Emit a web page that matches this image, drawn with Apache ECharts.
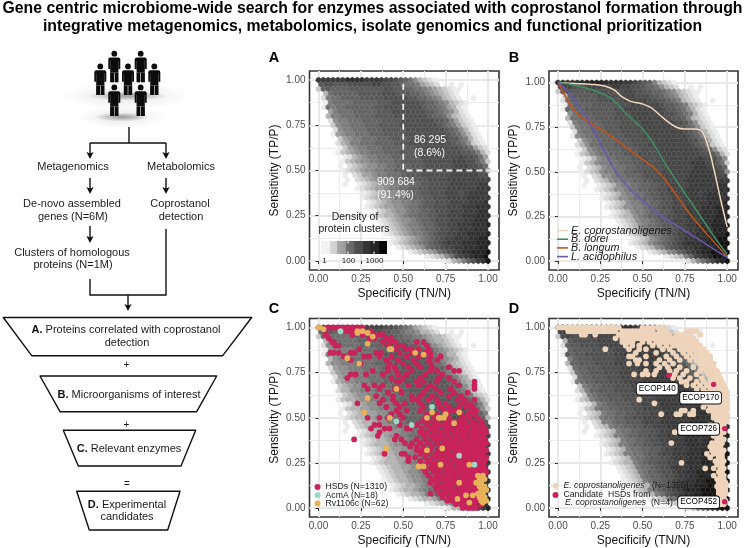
<!DOCTYPE html>
<html><head><meta charset="utf-8">
<style>html,body{margin:0;padding:0;background:#fff}#c{width:745px;height:548px}</style>
<script src="https://cdn.jsdelivr.net/npm/echarts@6/dist/echarts.min.js"></script>
</head><body><div id="c"></div>
<script>
/* density class of each hexagon (a = few clusters ... p = many), one string per row from Sensitivity 1.000 down to 0.000 */
const hexDensityRows = [
"mmmmm mnnnn mmmml lkjih fdcba",
"jkkjj jkkkk kllkk jjihh gedcb ..a.a",
"cijii iijjj jjjjk kjjii hhgfe dcbaa",
".dhii iiijj jjjkk kjjji ihgfe dcba",
".bghh iiiij jjjjk kkkkj jiihg fdcba ..a",
".aghh hhiii iijjj kkkkk kjiih gfdcb a",
".ahgh hiiii iijjk kkkkk kkjii hgedb a",
"..egh hhiii iijjj kkkkk kkjji hgfdb a",
"..dgg hhhii iijjj jkkkk kkkji ihfdc ba",
"..bfg ghhhi iiijj jjkkk kkkkj jigec ba",
"...cf gghhh iiijj jjkkk kkkkk jihge cba",
"...bf gghhh iiijj jjjkk kkkkk kjihf dba",
"...ae fgghh hiiij jjjkk kkkkk kkjih fdba",
"....c efggh hhiii jjjjk kkkkk kkjjh gdba",
"....b deggh hhiii ijjjk kkkkk kkkji hfcba",
"....a cefgg hhhii iijjj kkkkk kkkkj ihecb",
"....a cdefg ghhhi iijjj jkkkk kkkkk jjigd b",
"..... abdef gghhh iijjj jkkkk kkkkl kkjhe",
"..... acdef fgghh hiijj jjkkk kkkll lkkig c",
"....a .bcde ffggh hiiij jjkkk kkkll lkkjh",
"..... abcde ffggh hiijj jjkkk kkkll lllkj e",
"..... a.bce efggh hhijj jkkkk kklll lllkk",
"..... .a.bc deffg ghhii jjjkk kklll lllll l",
"..... a..ab cdeff gghhi ijjkk kklll lllmm",
"..... ...ab cdeef gghhi ijjkk kklll lllmm m",
"..... ....a bcdef fgghi ijjkk klllk lmmmm",
"..... ....a bcdee fgghh iijjk kklll lmmmm m",
"..... ..... abcde ffggh hijjk kklll lmmmn",
"..... ..... abcde effgh hijjk kklll mmmnn n",
"..... ..... .abcd effgh hiijk kklll mmmnn",
"..... ..... .abcd defgh hiijj kklll mmmnn n",
"..... ..... ..abc deffg hiijk kklll mmnnn",
"..... ..... ...ab cdefg ghiij kkllm mmnnn o",
"..... ..... ...ab cdefg ghiij kkllm mmnnn",
"..... ..... ....a bcdef gghij kkllm mnnnn o",
"..... ..... ..... abcde fghij kllmm mnnoo",
"..... ..... ..... abcde fghij klmmm nnnoo o",
"..... ..... ..... .abcd efhij kllmm nnnoo",
"..... ..... ..... ....a bcdef hiklm nnooo p",
"..... ..... ..... ..... ..abc dfhkl mnoop",
"..... ..... ..... ..... ..... .abde gikmn p"
];

/* Panel B curves: [specificity, sensitivity] */
const curveCoprostanoligenes = [[0,1],[.1,.995],[.2,.99],[.28,.98],[.33,.96],[.38,.92],[.43,.895],[.5,.88],[.55,.86],[.6,.82],[.65,.78],[.7,.75],[.75,.74],[.8,.74],[.84,.735],[.87,.69],[.9,.6],[.93,.48],[.96,.35],[.98,.27],[1,.19]];
const curveDorei = [[0,1],[.1,.985],[.2,.96],[.28,.93],[.33,.9],[.4,.83],[.5,.74],[.55,.68],[.6,.6],[.65,.52],[.7,.45],[.75,.38],[.8,.31],[.85,.24],[.9,.17],[.95,.1],[1,.04]];
const curveLongum = [[0,1],[.03,.95],[.07,.88],[.12,.82],[.2,.77],[.3,.71],[.4,.64],[.5,.57],[.57,.52],[.63,.46],[.7,.37],[.75,.3],[.8,.24],[.9,.13],[1,.025]];
const curveAcidophilus = [[0,1],[.05,.96],[.1,.9],[.15,.83],[.2,.75],[.25,.66],[.3,.57],[.35,.49],[.4,.43],[.45,.38],[.5,.34],[.6,.26],[.7,.2],[.8,.14],[.9,.08],[1,.02]];

/* Panel A quadrant boundary */
const quadrantLine = [[.5,.98],[.5,.5],[1.065,.5]];

/* Points as rows: first number = sensitivity x100, the rest = specificity x100 */
const hsdRows = [
[100,5,6,7,8,9,10,11,12,13,15,16,17,18,19,20,21,22,24,25,26],
[98,13,16,18,19,21,23,25,27,31],[96,4,5,20,26,33,36,38],[94,6,30,33,40,43],[92,8,9,38,42,45,58,62],
[90,10,12,41,47,50,64],[88,24,45,52,55,59,65],[86,7,9,12,19,21,34,37,48,55,63,66],
[84,15,27,30,36,43,52,59,66,72],[82,19,40,47,56,65,70],[80,25,42,50,58,66],[78,41,45,53,60,67,77],
[76,32,41,46,55,66,70,80,83],[74,19,22,28,38,47,52,63,73],[72,17,43,50,60,71,77],[70,46,48,58,62,70,80,92],
[68,27,33,38,53,59,66,83,92],[66,29,36,45,47,64,69,78,92],[64,41,49,62,72,80,88],[62,34,44,55,60,67,77,84],
[60,38,44,55,58,65,70,82,86,92],[58,23,36,46,51,60,71,75,85,89],[56,40,48,62,72,77,83,87,91],
[54,46,52,60,74,78,81,90,93],[52,43,48,64,70,76,84,88,92],[50,29,36,41,50,63,68,73,77,85,89,94],
[48,47,61,65,69,75,79,83,86,91,96],[46,33,36,48,58,64,68,71,74,77,81,84,87,90,93,97],
[44,31,39,42,52,54,61,66,70,75,78,82,85,88,92,95,98],[42,36,60,64,68,72,76,80,83,86,90,93,96,99],
[40,35,46,62,66,70,73,77,81,84,87,91,94,97],[38,21,45,49,58,63,68,71,75,79,82,86,89,92,95,98],
[36,51,55,60,65,70,74,77,80,84,87,90,93,96,99],[34,54,58,62,67,72,76,79,82,85,88,91,94,97],
[32,58,61,66,71,74,77,81,84,87,90,93,96,99],[30,39,49,51,60,64,69,72,76,79,82,85,88,91,94,97],
[28,53,57,63,67,71,74,78,81,84,87,90,93,96,99],[26,53,60,65,69,73,76,80,83,86,89,92,95,98],
[24,63,67,70,74,78,82,85,88,91,94,97],[22,62,66,69,72,76,79,83,86,89,92,95,98],
[20,63,68,71,75,78,81,84,87,90,93,96,99],[18,65,70,73,76,79,83,86,89,92,95],
[16,67,69,72,75,78,81,85,88,91,94,97],[14,66,70,74,77,80,83,86,89,92],[12,69,72,75,78,82,85,88,91,94],
[10,70,74,77,80,84,87,90,93],[8,66,72,75,79,82,85,88,92,95],[6,73,77,80,83,86,90,93,96],
[4,76,79,82,84,87,91,94],[2,81,84,86,89,92,96],[0,85,88,90,93]
];
const acmaRows = [[98,13],[56,67],[48,46],[46,55],[29,83],[24,92],[4,98]];
const rv1106cRows = [
[100,0,1],[99,3],[98,23,26],[97,23,29],[95,32],[91,29],[88,42,43],[86,57],[85,62],[83,17],[80,24],[66,46],[61,29],
[53,27,67,83],[52,75],[50,42,64,71,72,74],[47,80],[33,40,73],[32,64],[24,72,89],[23,59,62],
[18,94,97],[16,95,98],[14,83,93,96],[12,95,98],[10,96,99],[8,94,97],[7,87,91],[6,95,98],[5,82],[4,96,99],[3,89,97]
];
const ecopRows = [
[100,0,2,4,6,8,10,12,14,16,18,20,22,24,26,28,30,32,34,36,50,53,56,59,62],
[98,6,8,10,12,14,16,18,20,22,24,26,28,30,32,34,38,40,42,44,46,48,50,52,54,56,60,62,64,76,78,80,82],
[96,14,16,22,36,38,40,42,44,46,48,50,52,54,56,58,60,62,64,66,70,72,74,78,84],
[94,34,38,40,42,44,46,48,50,52,54,56,58,60,62,64,66,68,70,72,74,76,78,80],
[92,38,40,42,44,50,54,58,60,62,64,66,68,70,72,74,76,78,80,82],
[90,40,44,48,56,60,64,68,70,72,74,76,78,80,82,84],[88,28,42,48,52,62,66,72,74,76,78,80,82,84,86],
[86,46,58,68,74,78,82,84,86,88],[84,42,44,52,64,70,76,80,84,86,88,90],[82,46,48,60,66,72,78,82,86,88,90],
[80,42,47,52,58,63,68,84,86,88,90,92],[78,60,65,72,80,86,88,90,92],[76,52,58,66,70,76,84,88,90,92,94],
[74,45,50,53,57,69,74,82,89,92,94,95],[72,68,72,78,85,91,93,95,96],[70,73,76,82,86,90,92,94,96,97],
[68,76,80,84,88,90,92,94,96,97,98],[66,82,86,90,92,94,96,97,98,99],[64,86,88,90,92,94,96,97,98,99,100],
[62,90,92,94,96,97,98,99,100],[60,48,91,92,94,96,98,99,100],[58,57,88,90,92,94,96,98,100],[56,86,90,92,94,96,98,100],
[54,73,75,80,89,91,93,95,97,99],[52,61,70,72,78,80,92,94,96,98,100],[50,92,94,96,98,100],[48,94,96,98,100],
[46,90,94,96,98],[44,89,92,95,97],[42,69,87,91,93,95,98],[40,92,94,96],[38,94,96,98],[36,67,91,93,95,97],
[34,90,92,94,96],[32,91,93,96,98],[30,88,92,94,97],[28,90,95,97],[26,93,96,98],[25,73],[24,94,97],[22,87,92,96,98],
[20,95,97],[18,92,96,98],[16,94,96,98],[14,95,97,99],[12,94,97,99],[10,95,97,99],[8,95,97,99],[6,96,98],[4,95,97,99],[2,96,98]
];
const candidateNames = ["ECOP140","ECOP170","ECOP726","ECOP452"];
const candidateSpecificity = [.655,.92,.985,.985];
const candidateSensitivity = [.735,.685,.44,.035];
const axisTickValues = [0,.25,.5,.75,1];
const axisMinorValues = [.125,.375,.625,.875];

const FONT = '"Liberation Sans",Arial,sans-serif';
const rowsToPoints = rows => rows.flatMap(r => r.slice(1).map(x => [x/100, r[0]/100]));
const greys = ['#ececec','#dcdcdc','#c8c8c8','#b4b4b4','#a0a0a0','#8e8e8e','#7e7e7e','#707070','#646464','#5a5a5a','#505050','#464646','#3c3c3c','#323232','#262626','#141414'];
const hexCells = [];
hexDensityRows.forEach((s, j) => {
  const y = 1 - j/40;
  s.replace(/ /g,'').split('').forEach((ch, i) => {
    if (ch === '.') return;
    hexCells.push([(i + (j % 2 ? .5 : 0))/35, y, ch.charCodeAt(0)-97]);
  });
});
const HW = 1/70, HS = 1/120, HH = 1/60;
const panelShade = [0,1,-1,2];
const hexItem = shade => (params, api) => {
  const x = api.value(0), y = api.value(1);
  const lv = api.value(2), c = greys[lv < 4 ? lv : Math.max(0,Math.min(15,lv+shade))];
  const pts = [[x,y+HH],[x+HW,y+HS],[x+HW,y-HS],[x,y-HH],[x-HW,y-HS],[x-HW,y+HS]].map(p => api.coord(p));
  return {type:'polygon', shape:{points:pts}, style:{fill:c, stroke:c, lineWidth:.3}};
};

const panels = [
  {l:309.5,t:71,w:189.5,h:199,xr:[-.053,1.065],yr:[-.05,1.05]},
  {l:549,t:71,w:189,h:199,xr:[-.053,1.064],yr:[-.05,1.065]},
  {l:309.5,t:318.5,w:189.5,h:199,xr:[-.053,1.065],yr:[-.05,1.05]},
  {l:549,t:318.5,w:189,h:199,xr:[-.053,1.064],yr:[-.05,1.05]}
];
const grids = panels.map(p => ({left:p.l,top:p.t,width:p.w,height:p.h,show:true,backgroundColor:'#fff',borderColor:'#333',borderWidth:1.6,containLabel:false}));
const xAxes = [], yAxes = [];
panels.forEach((p, i) => {
  const mainBits = {
    type:'value', gridIndex:i, nameLocation:'middle',
    axisLine:{show:false},
    axisTick:{show:true,length:3,lineStyle:{color:'#333',width:1},customValues:axisTickValues},
    axisLabel:{customValues:axisTickValues,formatter:v=>v.toFixed(2),color:'#4d4d4d',fontSize:10,fontFamily:FONT,margin:4},
    splitLine:{show:true,lineStyle:{color:'#e8e8e8',width:2}},
    nameTextStyle:{color:'#111',fontSize:12,fontFamily:FONT}
  };
  const minorBits = {
    type:'value', gridIndex:i,
    axisLine:{show:false},
    axisTick:{show:false,customValues:axisMinorValues},
    axisLabel:{show:false,customValues:axisMinorValues},
    splitLine:{show:true,lineStyle:{color:'#ececec',width:1}}
  };
  xAxes.push(Object.assign({},mainBits,{min:p.xr[0],max:p.xr[1],name:'Specificify (TN/N)',nameGap:18}));
  yAxes.push(Object.assign({},mainBits,{min:p.yr[0],max:p.yr[1],name:'Sensitivity (TP/P)',nameGap:29}));
  xAxes.push(Object.assign({},minorBits,{min:p.xr[0],max:p.xr[1]}));
  yAxes.push(Object.assign({},minorBits,{min:p.yr[0],max:p.yr[1]}));
});
const series = [];
panels.forEach((p,i) => series.push({
  type:'custom',name:'Hex '+'ABCD'[i],xAxisIndex:2*i,yAxisIndex:2*i,renderItem:hexItem(panelShade[i]),
  data:hexCells,encode:{x:0,y:1},silent:true,z:2,clip:false
}));
series.push({type:'line',name:'Quadrants',xAxisIndex:0,yAxisIndex:0,data:quadrantLine,symbol:'none',z:5,silent:true,
  lineStyle:{color:'#f0f0f0',width:1.8,type:[6,4]}});
const line = (name,data,color) => ({type:'line',name,xAxisIndex:2,yAxisIndex:2,data,symbol:'none',smooth:.4,z:5,lineStyle:{color,width:1.5},itemStyle:{color}});
series.push(line('E. coprostanoligenes',curveCoprostanoligenes,'#f0d8bd'));
series.push(line('B. dorei',curveDorei,'#3f8f63'));
series.push(line('B. longum',curveLongum,'#c2541b'));
series.push(line('L. acidophilus',curveAcidophilus,'#6a57b0'));
const dots = (name,data,color,ax,z) => ({type:'scatter',name,xAxisIndex:ax,yAxisIndex:ax,data,symbolSize:5.7,z,itemStyle:{color,opacity:1}});
series.push(dots('HSDs (N=1310)',rowsToPoints(hsdRows),'#c8235b',4,5));
series.push(dots('AcmA (N=18)',rowsToPoints(acmaRows),'#9ad9c5',4,6));
series.push(dots('Rv1106c (N=62)',rowsToPoints(rv1106cRows),'#e8b25a',4,6));
series.push(dots('ecop',rowsToPoints(ecopRows),'#eed4bb',6,5));
const labelOffsets = [[-11.5,13.5],[-13,13.5],[-26,0.5],[-26,0.5]];
series.push({type:'scatter',name:'cand',xAxisIndex:6,yAxisIndex:6,symbolSize:5.3,z:7,itemStyle:{color:'#c8235b',opacity:1},
  data:candidateNames.map((n,i)=>({name:n,value:[candidateSpecificity[i],candidateSensitivity[i]],
    label:{show:true,formatter:n,position:'inside',offset:labelOffsets[i],color:'#000',fontSize:8.2,fontFamily:FONT,opacity:1,
      backgroundColor:'#ffffff',borderColor:'#111',borderWidth:.9,borderRadius:2.5,padding:[2,2,1.5,2]}}))});

/* ----- flowchart & annotations ----- */
const g = [];
const txt = (x,y,text,size,extra) => g.push(Object.assign({type:'text',z:20,silent:true,style:Object.assign({x,y,text,fill:'#1a1a1a',fontSize:size,fontFamily:FONT,align:'center',verticalAlign:'middle',rich:{b:{fontWeight:'bold',fontSize:size,fontFamily:FONT,fill:'#111'}}},extra||{})}));
const ln = pts => g.push({type:'polyline',z:10,silent:true,shape:{points:pts},style:{stroke:'#111',lineWidth:1.4,fill:null}});
const arrow = (x,y1,y2) => {ln([[x,y1],[x,y2-3]]);g.push({type:'polygon',z:10,silent:true,shape:{points:[[x-3.6,y2-7],[x,y2-5.5],[x+3.6,y2-7],[x,y2]]},style:{fill:'#111'}});};
const trap = pts => g.push({type:'polygon',z:10,silent:true,shape:{points:pts},style:{fill:'#fff',stroke:'#111',lineWidth:1.4,lineJoin:'round'}});
function person(cx,top){
  const k={fill:'#0c0c0c'};
  g.push({type:'circle',z:12,silent:true,shape:{cx,cy:top+3,r:2.9},style:k});
  g.push({type:'rect',z:12,silent:true,shape:{x:cx-6,y:top+6.8,width:12,height:11.5,r:[2,2,0,0]},style:k});
  g.push({type:'rect',z:12,silent:true,shape:{x:cx-4.1,y:top+12,width:8.2,height:10},style:k});
  g.push({type:'rect',z:12,silent:true,shape:{x:cx-4.2,y:top+22,width:3.9,height:9.6},style:k});
  g.push({type:'rect',z:12,silent:true,shape:{x:cx+.3,y:top+22,width:3.9,height:9.6},style:k});
  g.push({type:'rect',z:12,silent:true,shape:{x:cx-4.4,y:top+10,width:.5,height:9},style:{fill:'#666'}});
  g.push({type:'rect',z:12,silent:true,shape:{x:cx+3.9,y:top+10,width:.5,height:9},style:{fill:'#666'}});
}
const shadow = (cx,cy,rx,ry,a) => { for (let k=1;k<=8;k++) g.push({type:'ellipse',z:9,silent:true,shape:{cx,cy,rx:rx*k/8,ry:ry*k/8},style:{fill:'rgba(0,0,0,'+a+')'}}); };
shadow(127,96,62,13,.012); shadow(127,96,38,4,.04); shadow(122,117,42,11,.012); shadow(122,117,26,4,.045);
person(114.3,50.7);person(140.7,50.7);person(100.3,63.4);person(128,63.4);person(154.3,63.4);person(114.3,84.4);person(140.7,84.4);

ln([[129,127],[129,143]]);ln([[90,143],[166,143]]);
arrow(90,143,159);arrow(166,143,159);
txt(73,167,'Metagenomics',11);txt(181,167,'Metabolomics',11);
arrow(90,178,194);arrow(166,178,194);
txt(72,204,'De-novo assembled',11);txt(73,216.5,'genes (N=6M)',11);
txt(180,204,'Coprostanol',11);txt(181,216.5,'detection',11);
arrow(90,226,243);ln([[166,229],[166,295],[90,295],[90,279]]);
txt(72,253,'Clusters of homologous',11);txt(73,265,'proteins (N=1M)',11);
arrow(128,295,311);
trap([[3.3,317.5],[251.7,317.5],[222.7,355.7],[31.7,355.7]]);
txt(126,330,'{b|A.} Proteins correlated with coprostanol',11);txt(127,343,'detection',11);
txt(126.5,365,'+',10);
trap([[40,376],[216.7,376],[196.7,411.7],[60,411.7]]);
txt(129,395,'{b|B.} Microorganisms of interest',11);
txt(126.5,425,'+',10);
trap([[63.3,430.3],[195.7,430.3],[181,466],[78.3,466]]);
txt(129,449,'{b|C.} Relevant enzymes',11);
txt(127,484,'=',10);
trap([[76.7,491.3],[180,491.3],[167.7,530],[89.3,530]]);
txt(127,504.5,'{b|D.} Experimental',11);txt(127,517,'candidates',11);

[['A',274,58],['B',514,58],['C',274,309],['D',514,309]].forEach(a=>txt(a[1],a[2],a[0],14.5,{fontWeight:'bold',fill:'#000'}));

/* Panel A annotations */
const white={fill:'#f4f4f4',align:'left'};
txt(414,140,'86 295',10.5,white);txt(414,152.7,'(8.6%)',10.5,white);
txt(377,182,'909 684',10.5,white);txt(377,195,'(91.4%)',10.5,white);
txt(355,217,'Density of',10.5);txt(354,229,'protein clusters',10.5);
g.push({type:'rect',z:20,silent:true,shape:{x:321,y:241,width:66,height:13},style:{fill:{type:'linear',x:0,y:0,x2:1,y2:0,colorStops:
  [[0,'#f2f2f2'],[.13,'#f2f2f2'],[.13,'#d8d8d8'],[.25,'#d0d0d0'],[.25,'#a9a9a9'],[.38,'#999'],[.38,'#6f6f6f'],[.5,'#666'],[.5,'#525252'],[.63,'#4a4a4a'],[.63,'#363636'],[.75,'#333'],[.75,'#262626'],[.88,'#222'],[.88,'#0c0c0c'],[1,'#050505']].map(s=>({offset:s[0],color:s[1]}))}}});
[348,374].forEach(x=>{g.push({type:'rect',z:21,silent:true,shape:{x:x-.5,y:241,width:1,height:2.6},style:{fill:'#fff'}});g.push({type:'rect',z:21,silent:true,shape:{x:x-.5,y:251.4,width:1,height:2.6},style:{fill:'#fff'}});});
txt(324.5,261,'1',8);txt(348.5,261,'100',8);txt(374.5,261,'1000',8);

/* Panel D legend second line */
g.push({type:'text',z:20,silent:true,style:{x:565,y:503,text:'{i|E. coprostanoligenes}  (N=4)',fill:'#1a1a1a',fontSize:8.7,fontFamily:FONT,verticalAlign:'middle',rich:{i:{fontStyle:'italic',fontSize:8.7,fontFamily:FONT,fill:'#1a1a1a'}}}});

const option = {
  animation:false,
  backgroundColor:'#fff',
  title:{text:'Gene centric microbiome-wide search for enzymes associated with coprostanol formation through\nintegrative metagenomics, metabolomics, isolate genomics and functional prioritization',
    left:372.5,top:0,padding:0,textAlign:'center',textStyle:{fontFamily:FONT,fontSize:15.8,fontWeight:'bold',color:'#000',lineHeight:18},itemGap:0},
  grid:grids,xAxis:xAxes,yAxis:yAxes,series,graphic:{elements:g},
  legend:[
    {left:557,top:225,orient:'vertical',padding:0,itemGap:-2.3,itemWidth:11,itemHeight:1.6,icon:'rect',
      data:['E. coprostanoligenes','B. dorei','B. longum','L. acidophilus'],
      textStyle:{fontStyle:'italic',fontSize:10.8,fontFamily:FONT,color:'#1a1a1a',padding:[0,0,0,-2]}},
    {left:314.5,top:482.5,orient:'vertical',padding:0,itemGap:-.7,itemWidth:6,itemHeight:8,icon:'circle',
      data:['HSDs (N=1310)','AcmA (N=18)','Rv1106c (N=62)'],
      textStyle:{fontSize:8.7,fontFamily:FONT,color:'#1a1a1a',lineHeight:8,padding:[0,0,0,0]}},
    {left:552.5,top:481.5,orient:'vertical',padding:0,itemGap:0,itemWidth:6,itemHeight:9,icon:'circle',
      data:[{name:'ecop'},{name:'cand'}],
      formatter:n=>n==='ecop'?'{i|E. coprostanoligenes}   (N=1355)':'Candidate  HSDs from',
      textStyle:{fontSize:8.7,fontFamily:FONT,color:'#1a1a1a',lineHeight:9,padding:[0,0,0,0],rich:{i:{fontStyle:'italic',fontSize:8.7,fontFamily:FONT,color:'#1a1a1a'}}}}
  ]
};
const chart = echarts.init(document.getElementById('c'),null,{renderer:'canvas'});
chart.setOption(option);
</script></body></html>
